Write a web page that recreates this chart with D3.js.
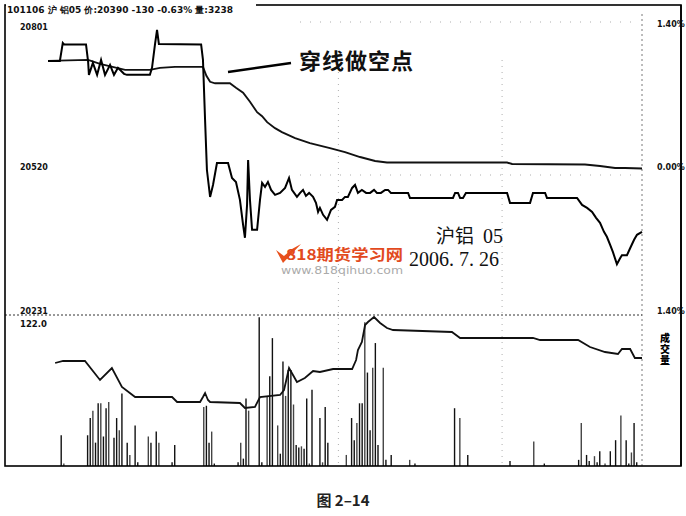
<!DOCTYPE html>
<html><head><meta charset="utf-8">
<script src="https://cdn.jsdelivr.net/npm/d3@7/dist/d3.min.js"></script>
<style>html,body{margin:0;padding:0;background:#fff}svg{display:block}</style>
</head><body>
<svg id="c" width="686" height="516"></svg>
<script>
// ---------- data (minute index 0..225 of the trading day) ----------
const header = "101106 沪  铝05 价:20390 -130 -0.63% 量:3238";
const priceTicks = [20801, 20520, 20231];
const pctLabels = ["1.40%", "0.00%", "1.40%"];
const volMaxLabel = "122.0";

const priceT = [0,4.5,5.6,6.1,14.4,15.2,15.5,17.0,18.6,20.1,21.6,23.5,25.0,26.5,28.8,29.9,38.6,39.4,40.5,41.3,42.0,58.0,58.7,59.5,60.2,61.4,62.5,64.0,68.2,69.7,71.2,72.7,73.9,74.6,75.4,75.8,76.5,77.3,79.2,80.3,81.1,82.2,83.3,84.5,86.0,87.9,89.8,91.3,92.4,94.3,95.5,96.6,97.7,98.9,100.4,101.5,102.3,103.0,104.2,105.7,107.2,108.7,109.5,111.4,112.5,113.6,115.2,116.3,117.4,118.9,120.5,122.0,123.5,124.6,126.1,127.7,128.8,129.9,136.4,137.1,153.4,154.2,155.3,156.1,157.2,158.3,173.9,175.0,182.6,183.7,188.3,189.0,200.4,202.3,204.2,206.1,207.6,209.1,210.6,211.7,212.9,214.0,215.5,216.7,217.4,219.3,220.5,222.0,223.1,225];
const priceV = [20733,20733,20769,20766,20766,20731,20705,20729,20705,20735,20705,20725,20705,20719,20707,20705,20705,20719,20765,20795,20767,20766,20735,20614,20514,20460,20484,20528,20528,20498,20490,20454,20404,20378,20444,20534,20454,20394,20394,20454,20488,20480,20490,20474,20464,20468,20478,20498,20474,20460,20468,20474,20462,20468,20460,20448,20430,20438,20424,20414,20434,20440,20454,20454,20460,20460,20478,20484,20468,20474,20468,20468,20474,20468,20468,20474,20474,20468,20468,20458,20458,20468,20468,20458,20458,20468,20468,20448,20448,20468,20468,20458,20458,20444,20438,20430,20418,20408,20390,20380,20364,20349,20325,20337,20343,20343,20357,20374,20384,20390];

const avgT = [0,15.2,19.7,29.2,38.6,42.4,48.1,57.6,58.7,60.0,61.4,63.3,68.9,71.2,73.9,76.5,79.2,81.1,83.0,86.0,88.6,93.6,99.2,106.8,112.5,118.2,123.9,128.4,173.9,175.8,203.4,209.1,214.8,218.6,225];
const avgV = [20733,20735,20727,20715,20715,20719,20721,20721,20721,20703,20691,20688,20688,20679,20669,20651,20630,20622,20610,20598,20590,20578,20568,20558,20550,20540,20532,20529,20529,20526,20525,20522,20518,20518,20517];

const oiT = [2.7,5.7,14.0,19.7,24.2,28.0,33.0,47.0,48.9,57.6,58.7,59.5,60.6,61.4,72.7,74.6,78.4,80.3,87.9,89.4,91.3,92.8,94.3,97.3,100.4,103.0,108.0,115.2,116.7,117.4,118.9,120.1,121.2,123.5,125.8,128.4,130.7,153.0,156.1,183.7,186.4,200.8,205.3,211.0,215.9,217.4,220.5,222.3,225];
const oiV = [10412,10420,10420,10344,10392,10316,10276,10276,10256,10256,10276,10292,10264,10256,10252,10232,10236,10276,10284,10304,10392,10364,10336,10352,10380,10376,10388,10388,10424,10464,10496,10564,10576,10596,10572,10552,10544,10536,10512,10512,10504,10504,10476,10456,10448,10468,10468,10432,10432];

const volT = [5,6,15,16,17,18,19,20,21,22,23,25,26,27,28,30,31,33,34,38,39,41,42,47,48,59,60,61,62,63,72,73,74,75,76,80,81,83,84,85,87,88,89,90,91,92,93,94,95,96,97,98,99,100,103,104,105,106,113,115,116,117,118,119,120,121,122,123,124,125,127,128,130,137,139,154,156,159,175,184,188,201,202,204,205,207,208,209,211,213,215,217,219,220,221,222,223];
const volV = [25,2,25,39,45,19,51,51,24,47,52,23,39,29,59,19,9,33,3,24,19,28,19,3,17,48,49,19,28,2,3,19,6,55,45,121,3,57,73,104,33,10,85,57,78,78,50,17,15,16,14,55,2,62,39,3,48,19,9,39,21,35,51,51,117,76,29,80,100,17,80,5,9,5,2,47,39,9,4,20,2,5,35,9,4,8,3,12,2,12,21,41,21,2,11,35,3];

// ---------- drawing ----------
const svg = d3.select("#c");
const L = 5, R = 681, T = 5, B = 466, SEP = 315;
const x = d3.scaleLinear().domain([0, 225]).range([48, 642]);
const yP = d3.scaleLinear().domain([20231, 20801]).range([311, 27]);
const yV = d3.scaleLinear().domain([0, 122]).range([B, 316]);
const yOI = d3.scaleLinear().domain([10000, 10600]).range([B, 316]);

const num = "'DejaVu Sans', sans-serif";

// faint dotted grid
const g = svg.append("g").attr("stroke", "#999").attr("stroke-width", 0.8).attr("stroke-dasharray", "1,5");
[110, 172].forEach(t => g.append("line").attr("x1", x(t)).attr("x2", x(t)).attr("y1", 60).attr("y2", B));
g.append("line").attr("x1", x(225)).attr("x2", x(225)).attr("y1", 14).attr("y2", B).attr("stroke", "#555").attr("stroke-dasharray", "2,3");
g.append("line").attr("x1", 300).attr("x2", 640).attr("y1", yP(20520) + 8).attr("y2", yP(20520) + 8).attr("stroke-dasharray", "1,9");
g.append("line").attr("x1", 300).attr("x2", 640).attr("y1", 22).attr("y2", 22).attr("stroke-dasharray", "1,9");
// panel separator
svg.append("line").attr("x1", L).attr("x2", x(225)).attr("y1", SEP).attr("y2", SEP)
  .attr("stroke", "#333").attr("stroke-width", 1).attr("stroke-dasharray", "2,2");

// volume bars
svg.append("g").selectAll("line").data(volT).join("line")
  .attr("x1", d => x(d)).attr("x2", d => x(d))
  .attr("y1", yV(0)).attr("y2", (d, i) => yV(volV[i]))
  .attr("stroke", (d, i) => i % 3 === 1 ? "#444" : "#111").attr("stroke-width", 1.4);

const line = (ys) => d3.line().x(d => x(d[0])).y(d => ys(d[1]));
const pts = (t, v) => t.map((d, i) => [d, v[i]]);

svg.append("path").attr("d", line(yOI)(pts(oiT, oiV))).attr("fill", "none").attr("stroke", "#111").attr("stroke-width", 1.8);
svg.append("path").attr("d", line(yP)(pts(avgT, avgV))).attr("fill", "none").attr("stroke", "#111").attr("stroke-width", 1.9);
svg.append("path").attr("d", line(yP)(pts(priceT, priceV))).attr("fill", "none").attr("stroke", "#000").attr("stroke-width", 2);

// frame
svg.append("rect").attr("x", L).attr("y", T).attr("width", R - L).attr("height", B - T)
  .attr("fill", "none").attr("stroke", "#000").attr("stroke-width", 1.6);

// header
svg.append("rect").attr("x", L + 1).attr("y", 2).attr("width", 250).attr("height", 13).attr("fill", "#fff");
svg.append("text").attr("x", 7).attr("y", 13).attr("font-family", num).attr("font-weight", "bold")
  .attr("font-size", 9).attr("fill", "#111").text(header);

// left labels
svg.append("g").selectAll("text").data(priceTicks).join("text")
  .attr("x", 20).attr("y", d => yP(d) + 3).attr("font-family", num).attr("font-weight", "bold")
  .attr("font-size", 8).attr("fill", "#111").text(d => d);
svg.append("text").attr("x", 20).attr("y", yV(122) + 11).attr("font-family", num).attr("font-weight", "bold")
  .attr("font-size", 8.5).attr("fill", "#111").text(volMaxLabel);
// right labels
svg.append("g").selectAll("text").data(priceTicks).join("text")
  .attr("x", 657).attr("y", (d, i) => yP(d) + (i === 0 ? 0 : 3)).attr("font-family", num).attr("font-weight", "bold")
  .attr("font-size", 8).attr("fill", "#111").text((d, i) => pctLabels[i]);
svg.append("line").attr("x1", R).attr("x2", R).attr("y1", T).attr("y2", B).attr("stroke", "#000").attr("stroke-width", 1.6);

// vertical 成交量
svg.append("text").attr("x", 665).attr("y", 333)
  .attr("font-family", "'Noto Sans CJK SC'").attr("font-weight", "900").attr("font-size", 10)
  .attr("writing-mode", "vertical-rl").attr("text-anchor", "start").attr("letter-spacing", 1)
  .text("成交量");

// annotation
svg.append("line").attr("x1", 228).attr("y1", 72).attr("x2", 291).attr("y2", 63)
  .attr("stroke", "#000").attr("stroke-width", 2.6);
svg.append("text").attr("x", 299).attr("y", 69).attr("font-family", "'Noto Sans CJK SC'").attr("font-weight", "bold")
  .attr("font-size", 22).attr("letter-spacing", 1).attr("fill", "#111").text("穿线做空点");
svg.append("text").attr("x", 436).attr("y", 243).attr("font-family", "'Noto Sans CJK SC'")
  .attr("font-size", 19).attr("fill", "#111").text("沪铝");
svg.append("text").attr("x", 483).attr("y", 243).attr("font-family", "'Liberation Serif', serif")
  .attr("font-size", 20).attr("fill", "#111").text("05");
svg.append("text").attr("x", 409).attr("y", 266).attr("font-family", "'Liberation Serif', serif")
  .attr("font-size", 20).attr("fill", "#111").text("2006. 7. 26");

// watermark
svg.append("path").attr("d", "M276,250 L283,263 L301,244 L292,249 L284,256 Z").attr("fill", "#e8501c");
svg.append("text").attr("x", 286).attr("y", 260).attr("font-family", "'Noto Sans CJK SC'").attr("font-weight", "bold")
  .attr("font-size", 15).attr("textLength", 117).attr("lengthAdjust", "spacingAndGlyphs")
  .attr("fill", "#e24a1e").text("818期货学习网");
svg.append("text").attr("x", 281).attr("y", 274).attr("font-family", "'DejaVu Sans', sans-serif")
  .attr("font-size", 11).attr("textLength", 122).attr("lengthAdjust", "spacingAndGlyphs")
  .attr("fill", "#aaa").text("www.818qihuo.com");

// caption
svg.append("text").attr("x", 343).attr("y", 506).attr("text-anchor", "middle").attr("font-family", "'Noto Sans CJK SC'")
  .attr("font-weight", "bold").attr("font-size", 15).attr("fill", "#222").text("图 2–14");
</script>
</body></html>
